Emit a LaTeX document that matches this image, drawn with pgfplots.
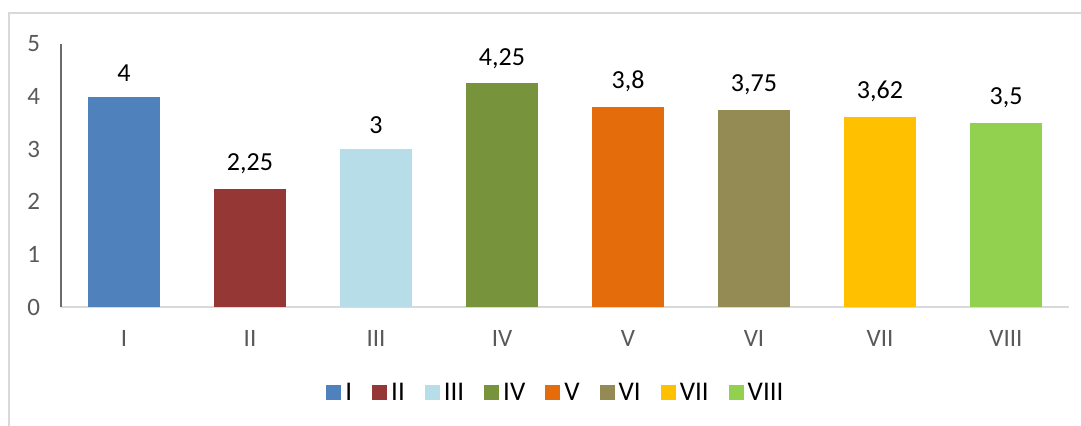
\documentclass[border=0pt]{standalone}
\usepackage{pgfplots}
\pgfplotsset{compat=1.18}
\usepackage{fontspec}
\setmainfont{Carlito}
\definecolor{cI}{HTML}{4F81BD}
\definecolor{cII}{HTML}{953735}
\definecolor{cIII}{HTML}{B7DEE8}
\definecolor{cIV}{HTML}{77933C}
\definecolor{cV}{HTML}{E46C0A}
\definecolor{cVI}{HTML}{948A54}
\definecolor{cVII}{HTML}{FFC000}
\definecolor{cVIII}{HTML}{92D050}
\definecolor{frame}{HTML}{D9D9D9}
\definecolor{ticktext}{HTML}{595959}
\begin{document}
\begin{tikzpicture}[x=0.5pt,y=-0.5pt]
\useasboundingbox (0,0) rectangle (1081,426);
\draw[frame, line width=1pt] (9,426) -- (9,13) -- (1081,13);
\begin{axis}[
  at={(30.5pt,-153.5pt)}, anchor=south west,
  scale only axis, width=504pt, height=131.5pt,
  ybar, bar width=36pt, bar shift=0pt,
  xmin=-0.5, xmax=7.5, ymin=0, ymax=5,
  xtick={0,...,7}, xticklabels={I,II,III,IV,V,VI,VII,VIII},
  ytick={0,1,2,3,4,5},
  major tick length=0pt,
  axis x line*=bottom, axis y line*=left,
  x axis line style={draw=frame, line width=0.8pt, -},
  y axis line style={draw=gray!85!black, line width=0.6pt, -},
  tick label style={font=\fontsize{12.5}{14}\selectfont, text=ticktext},
  yticklabel style={xshift=-7pt},
  xticklabel style={yshift=-8pt},
  /pgf/number format/assume math mode=true,
  nodes near coords,
  nodes near coords style={font=\fontsize{13}{15}\selectfont, text=black, yshift=4pt},
  /pgf/number format/.cd, use comma, precision=2, /pgfplots/.cd,
  legend style={at={(0.492,-0.327)}, anchor=center, draw=none, legend columns=-1,
    font=\fontsize{13.5}{15}\selectfont,
    /tikz/every even column/.append style={column sep=8pt}},
  legend image code/.code={\draw[#1,draw=none] (0pt,-3.75pt) rectangle (7.5pt,3.75pt);},
]
\addplot[fill=cI, draw=none] coordinates {(0,4)};
\addplot[fill=cII, draw=none] coordinates {(1,2.25)};
\addplot[fill=cIII, draw=none] coordinates {(2,3)};
\addplot[fill=cIV, draw=none] coordinates {(3,4.25)};
\addplot[fill=cV, draw=none] coordinates {(4,3.8)};
\addplot[fill=cVI, draw=none] coordinates {(5,3.75)};
\addplot[fill=cVII, draw=none] coordinates {(6,3.62)};
\addplot[fill=cVIII, draw=none] coordinates {(7,3.5)};
\legend{I,II,III,IV,V,VI,VII,VIII}
\end{axis}
\end{tikzpicture}
\end{document}
